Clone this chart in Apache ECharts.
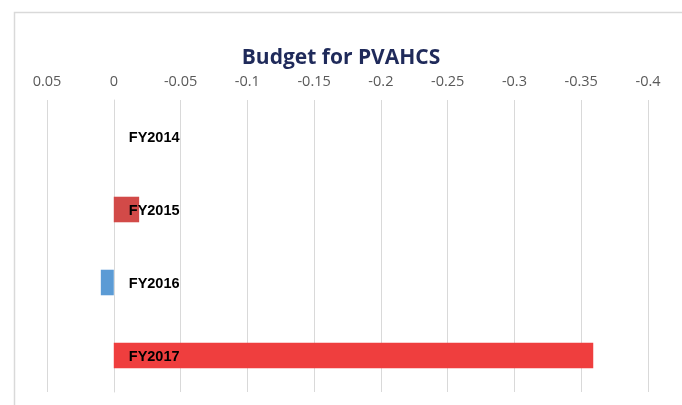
<!DOCTYPE html>
<html>
<head>
<meta charset="utf-8">
<script src="https://cdn.jsdelivr.net/npm/echarts@6/dist/echarts.min.js"></script>
<style>
html,body{margin:0;padding:0;background:#fff;}
#chart{width:682px;height:405px;}
</style>
</head>
<body>
<div id="chart"></div>
<script>
var categories = ['FY2014', 'FY2015', 'FY2016', 'FY2017'];
var values = [0, -0.019, 0.0097, -0.359];
var barColors = ['#d24a48', '#d24a48', '#5b9bd5', '#ef3e3e'];
var axisMin = -0.4, axisMax = 0.05, axisStep = 0.05;

var chart = echarts.init(document.getElementById('chart'), null, {renderer: 'canvas'});
chart.setOption({
  animation: false,
  backgroundColor: '#fff',
  title: {
    text: 'Budget for PVAHCS',
    left: 'center',
    top: 43,
    textStyle: {fontFamily: 'Open Sans', fontWeight: 'bold', fontSize: 21, color: '#1f2a5a'}
  },
  graphic: [{
    type: 'rect', left: 12, top: 10, z: -10,
    shape: {width: 669, height: 420},
    style: {fill: 'none', stroke: '#d9d9d9', lineWidth: 1.5}
  }],
  grid: {left: 47, right: 34, top: 100, bottom: 13, containLabel: false},
  xAxis: {
    type: 'value',
    position: 'top',
    inverse: true,
    min: axisMin, max: axisMax, interval: axisStep,
    axisLine: {show: false},
    axisTick: {show: false},
    splitLine: {lineStyle: {color: '#d9d9d9', width: 1}},
    axisLabel: {
      margin: 11, color: '#595959', fontSize: 14.5, fontFamily: 'Open Sans',
      formatter: function (v) { return String(Math.round(v * 100) / 100); }
    }
  },
  yAxis: {
    type: 'category',
    inverse: true,
    data: categories,
    axisLine: {show: true, onZero: true, lineStyle: {color: '#d9d9d9', width: 1}},
    axisTick: {show: false},
    axisLabel: {show: false}
  },
  series: [{
    type: 'bar',
    barWidth: '35%',
    data: values.map(function (v, i) { return {value: v, itemStyle: {color: barColors[i]}}; })
  }, {
    type: 'scatter',
    symbolSize: 0,
    z: 10,
    silent: true,
    itemStyle: {color: '#000', opacity: 1},
    data: categories.map(function (c) { return [0, c]; }),
    label: {
      show: true, position: 'right', distance: 15, offset: [0, 1.5],
      formatter: function (p) { return p.value[1]; },
      color: '#000', opacity: 1, fontWeight: 'bold', fontSize: 14.5, fontFamily: 'Liberation Sans'
    }
  }]
});
</script>
</body>
</html>
